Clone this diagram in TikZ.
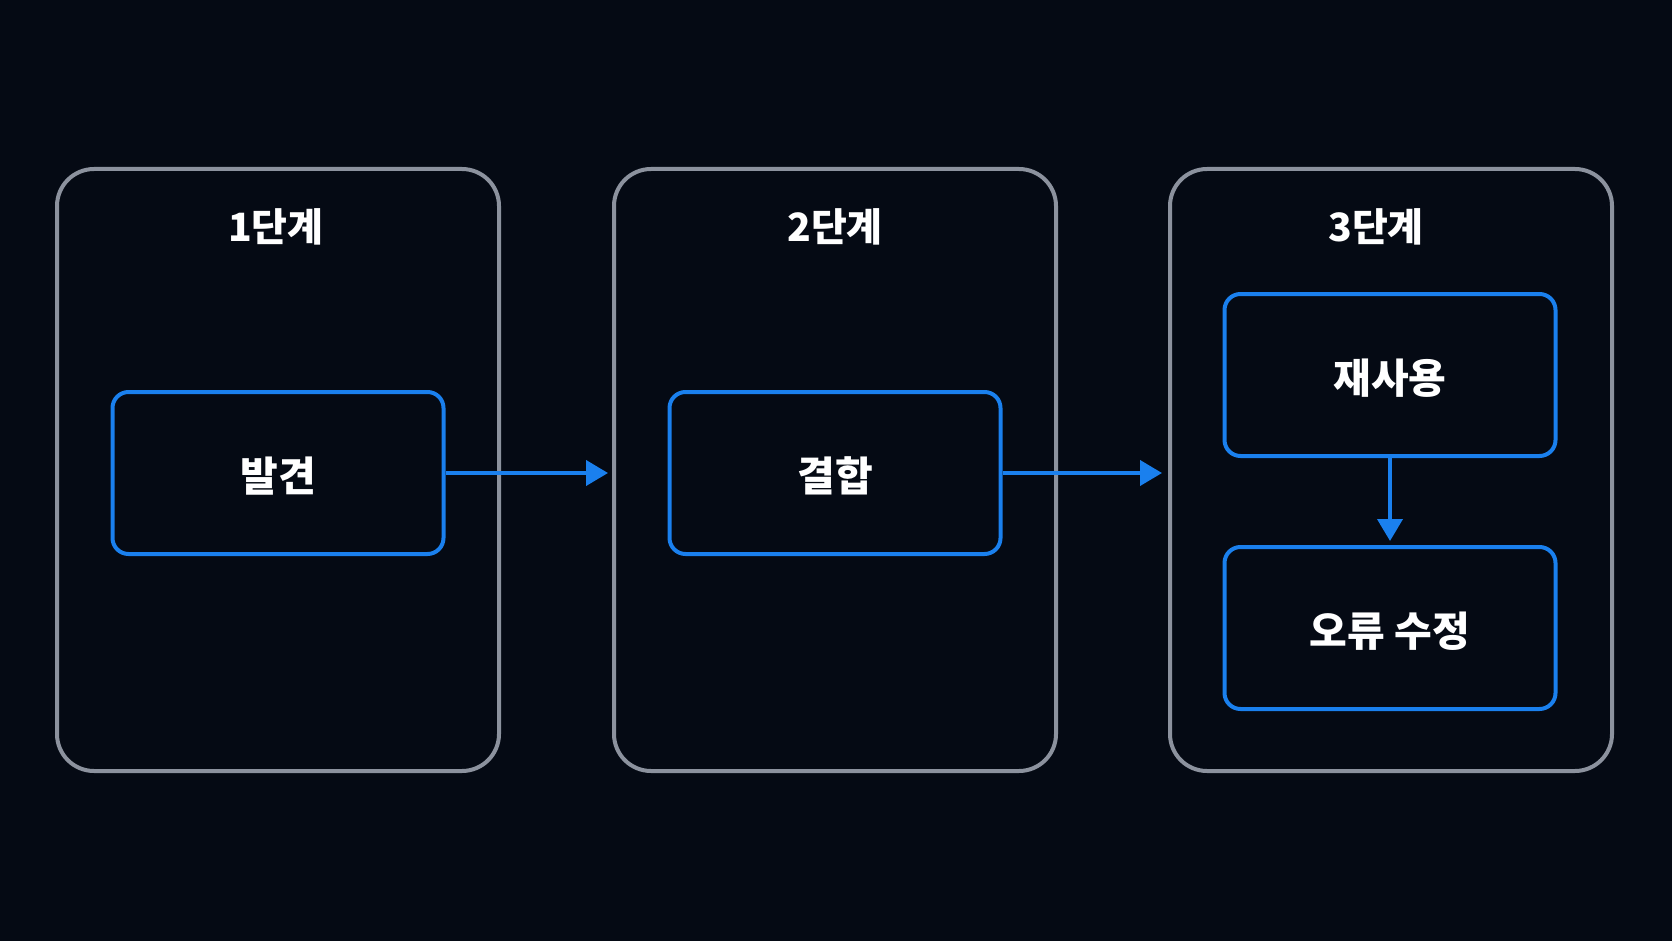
\documentclass[tikz,border=0pt]{standalone}
\usepackage{fontspec}
\newfontfamily\krfont{Noto Sans CJK KR}
\usetikzlibrary{arrows.meta,positioning}
\definecolor{bgnavy}{HTML}{050A14}
\definecolor{framegray}{HTML}{8C929E}
\definecolor{linkblue}{HTML}{1A80EE}

\begin{document}
\begin{tikzpicture}[x=1pt,y=-1pt,
stage/.style={draw=framegray,line width=4pt,rounded corners=37pt,
minimum width=442pt,minimum height=602pt,inner sep=0pt},
stagetitle/.style={text=white,font=\krfont\bfseries\fontsize{39}{46}\selectfont},
task/.style={draw=linkblue,line width=4pt,rounded corners=16pt,
minimum width=331pt,minimum height=162pt,inner sep=0pt,
text height=38pt,text depth=2pt,
text=white,font=\krfont\bfseries\fontsize{41}{48}\selectfont},
flow/.style={-{Triangle[length=22pt,width=25pt]},draw=linkblue,fill=linkblue,line width=4pt}]
\fill[bgnavy] (0,0) rectangle (1672,941);
\useasboundingbox (0,0) rectangle (1672,941);
\node[stage] (s1) at (278,470) {};
\node[stage] (s2) at (835,470) {};
\node[stage] (s3) at (1391,470) {};
\node[stagetitle] (t1) at (276,227) {1단계};
\node[stagetitle] (t2) at (835,227) {2단계};
\node[stagetitle] (t3) at (1376,227) {3단계};
\node[task] (find) at (278,473) {발견};
\node[task] (join) at (835,473) {결합};
\node[task] (reuse) at (1390,375) {재사용};
\node[task] (fix) at (1390,628) {오류 수정};
\draw[flow] (find.east) -- ([xshift=-4pt]s2.west |- find.east);
\draw[flow] (join.east) -- ([xshift=-6pt]s3.west |- join.east);
\draw[flow] (reuse.south) -- ([yshift=4pt]fix.north);
\end{tikzpicture}
\end{document}
